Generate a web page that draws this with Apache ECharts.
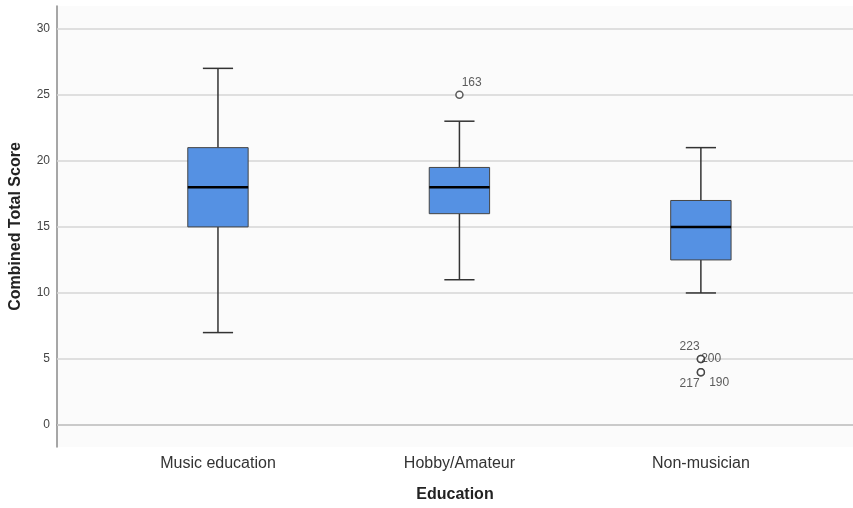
<!DOCTYPE html>
<html>
<head>
<meta charset="utf-8">
<script src="https://cdn.jsdelivr.net/npm/echarts@6/dist/echarts.min.js"></script>
<style>
  html, body { margin: 0; padding: 0; background: #ffffff; }
  #chart { width: 853px; height: 508px; }
</style>
</head>
<body>
<div id="chart"></div>
<script>
// Group names along the horizontal axis
const categories = ['Music education', 'Hobby/Amateur', 'Non-musician'];

// Five-number summaries per group
const lowWhisker  = [7, 11, 10];
const q1          = [15, 16, 12.5];
const median      = [18, 18, 15];
const q3          = [21, 19.5, 17];
const highWhisker = [27, 23, 21];

// Outlying cases: group index, score, case id
const outlierGroup = [1, 2, 2, 2, 2];
const outlierValue = [25, 5, 5, 4, 4];
const outlierId    = ['163', '223', '200', '217', '190'];

// Y axis tick labels
const yTicks = [0, 5, 10, 15, 20, 25, 30];

const FONT = 'Arial, "Liberation Sans", sans-serif';
const BOX_W = 0.25;   // box width in axis units
const CAP_W = 0.125;  // whisker cap width in axis units

const boxData = categories.map((c, i) =>
  [i + 1, lowWhisker[i], q1[i], median[i], q3[i], highWhisker[i]]);

// label placement for the case ids next to each outlier
const labelPlace = [
  { position: 'right', offset: [-5, -12] },
  { position: 'left',  offset: [6, -12] },
  { position: 'right', offset: [-7, 0] },
  { position: 'left',  offset: [6, 11] },
  { position: 'right', offset: [1, 10] }
];
const outlierData = outlierValue.map((v, k) => ({
  value: [outlierGroup[k] + 1, v],
  label: Object.assign({ show: true, formatter: outlierId[k] }, labelPlace[k])
}));

function renderBox(params, api) {
  const x = api.value(0);
  const lo = api.coord([x, api.value(1)]);
  const b1 = api.coord([x, api.value(2)]);
  const md = api.coord([x, api.value(3)]);
  const b3 = api.coord([x, api.value(4)]);
  const hi = api.coord([x, api.value(5)]);
  const halfBox = api.size([BOX_W, 0])[0] / 2;
  const halfCap = api.size([CAP_W, 0])[0] / 2;
  const cx = lo[0];
  const lineStyle = { stroke: '#333333', lineWidth: 1.5 };
  return {
    type: 'group',
    children: [
      { type: 'line', shape: { x1: cx, y1: lo[1], x2: cx, y2: b1[1] }, style: lineStyle },
      { type: 'line', shape: { x1: cx, y1: b3[1], x2: cx, y2: hi[1] }, style: lineStyle },
      { type: 'line', shape: { x1: cx - halfCap, y1: lo[1], x2: cx + halfCap, y2: lo[1] }, style: lineStyle },
      { type: 'line', shape: { x1: cx - halfCap, y1: hi[1], x2: cx + halfCap, y2: hi[1] }, style: lineStyle },
      { type: 'rect',
        shape: { x: cx - halfBox, y: b3[1], width: halfBox * 2, height: b1[1] - b3[1] },
        style: { fill: '#5591e3', stroke: '#444444', lineWidth: 1 } },
      { type: 'line', shape: { x1: cx - halfBox, y1: md[1], x2: cx + halfBox, y2: md[1] },
        style: { stroke: '#000000', lineWidth: 2.5 } }
    ]
  };
}

const chart = echarts.init(document.getElementById('chart'), null, { renderer: 'canvas' });
chart.setOption({
  animation: false,
  backgroundColor: '#ffffff',
  grid: {
    left: 57, right: 0, top: 6, bottom: 61,
    show: true, backgroundColor: '#fbfbfb', borderWidth: 0
  },
  xAxis: {
    type: 'value',
    min: 1 / 3,
    max: 3.63,
    name: 'Education',
    nameLocation: 'middle',
    nameGap: 40,
    nameTextStyle: { fontFamily: FONT, fontSize: 16, fontWeight: 'bold', color: '#222222' },
    axisLine: { show: true, lineStyle: { color: '#8a8a8a', width: 1.5 } },
    axisTick: { show: false, customValues: [1, 2, 3] },
    splitLine: { show: false },
    axisLabel: {
      customValues: [1, 2, 3],
      formatter: v => categories[Math.round(v) - 1],
      fontFamily: FONT, fontSize: 16, color: '#333333', margin: 9
    }
  },
  yAxis: {
    type: 'value',
    min: -1.66,
    max: 31.72,
    name: 'Combined Total Score',
    nameLocation: 'middle',
    nameGap: 33,
    nameTextStyle: { fontFamily: FONT, fontSize: 16, fontWeight: 'bold', color: '#222222' },
    axisLine: { show: true, lineStyle: { color: '#8a8a8a', width: 1.5 } },
    axisTick: { show: false, customValues: yTicks },
    axisLabel: {
      customValues: yTicks,
      fontFamily: FONT, fontSize: 12, color: '#444444', margin: 7
    },
    splitLine: { show: false }
  },
  series: [
    {
      // horizontal gridlines at each tick, kept beneath the boxes
      type: 'line',
      data: [],
      z: 1,
      silent: true,
      markLine: {
        z: 1,
        silent: true,
        symbol: 'none',
        label: { show: false },
        lineStyle: { color: '#d6d6d6', width: 1.5, type: 'solid' },
        data: yTicks.map(t => ({ yAxis: t }))
      }
    },
    {
      type: 'custom',
      renderItem: renderBox,
      encode: { x: 0, y: [1, 2, 3, 4, 5] },
      data: boxData,
      z: 3
    },
    {
      type: 'scatter',
      data: outlierData,
      symbol: 'circle',
      symbolSize: 7,
      itemStyle: { color: '#ffffff', borderColor: '#333333', borderWidth: 1.5 },
      label: { fontFamily: FONT, fontSize: 12, color: '#333333', distance: 3 },
      z: 5
    }
  ]
});
</script>
</body>
</html>
